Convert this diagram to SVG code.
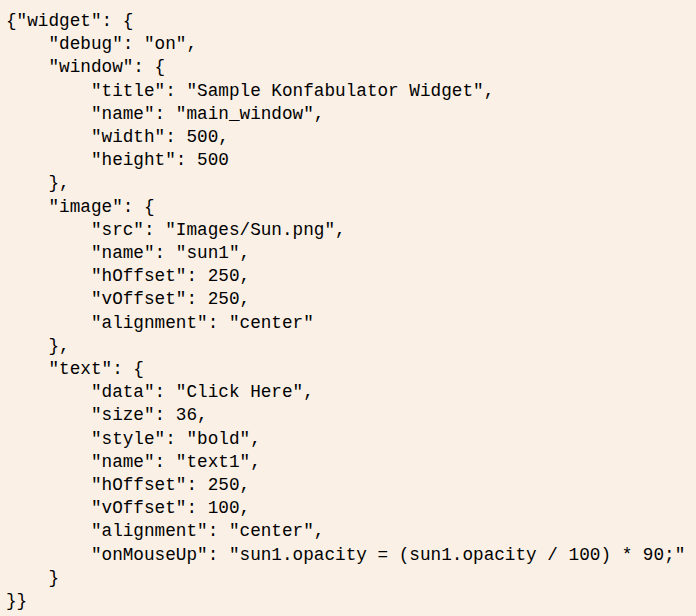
<svg xmlns="http://www.w3.org/2000/svg" width="696" height="616" viewBox="0 0 696 616">
<style>text{font-family:"Liberation Mono","DejaVu Sans Mono",monospace;font-size:17.7px;fill:#000;white-space:pre}</style>
<rect width="696" height="616" fill="#FAF0E6"/>
<g id="code" xml:space="preserve">
<text x="6" y="26">{"widget": {</text>
<text x="6" y="49.2">    "debug": "on",</text>
<text x="6" y="72.4">    "window": {</text>
<text x="6" y="95.6">        "title": "Sample Konfabulator Widget",</text>
<text x="6" y="118.8">        "name": "main_window",</text>
<text x="6" y="142">        "width": 500,</text>
<text x="6" y="165.2">        "height": 500</text>
<text x="6" y="188.4">    },</text>
<text x="6" y="211.6">    "image": {</text>
<text x="6" y="234.8">        "src": "Images/Sun.png",</text>
<text x="6" y="258">        "name": "sun1",</text>
<text x="6" y="281.2">        "hOffset": 250,</text>
<text x="6" y="304.4">        "vOffset": 250,</text>
<text x="6" y="327.6">        "alignment": "center"</text>
<text x="6" y="350.8">    },</text>
<text x="6" y="374">    "text": {</text>
<text x="6" y="397.2">        "data": "Click Here",</text>
<text x="6" y="420.4">        "size": 36,</text>
<text x="6" y="443.6">        "style": "bold",</text>
<text x="6" y="466.8">        "name": "text1",</text>
<text x="6" y="490">        "hOffset": 250,</text>
<text x="6" y="513.2">        "vOffset": 100,</text>
<text x="6" y="536.4">        "alignment": "center",</text>
<text x="6" y="559.6">        "onMouseUp": "sun1.opacity = (sun1.opacity / 100) * 90;"</text>
<text x="6" y="582.8">    }</text>
<text x="6" y="606">}}</text>
</g>
</svg>
